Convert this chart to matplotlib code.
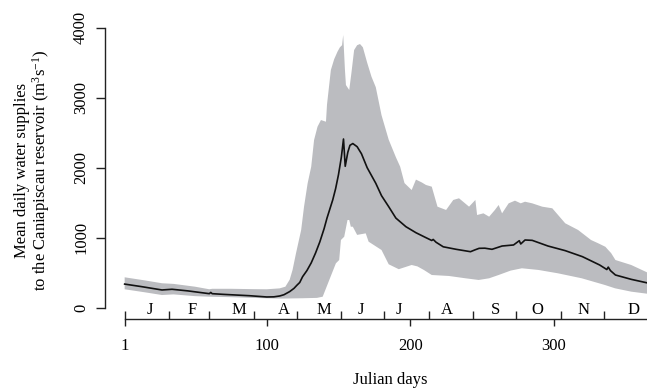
import numpy as np
import matplotlib
matplotlib.use("Agg")
import matplotlib.pyplot as plt

plt.rcParams['font.family'] = ['Liberation Serif', 'DejaVu Serif']
plt.rcParams['mathtext.fontset'] = 'custom'
plt.rcParams['mathtext.rm'] = 'Liberation Serif'
plt.rcParams['mathtext.it'] = 'Liberation Serif:italic'

# ---------------- data ----------------
mean_days = [1, 13, 27, 34, 45, 60, 61, 62, 70, 88, 100, 105, 109, 112, 116, 119, 121, 123,
             125, 128, 131, 134, 137, 140, 142, 146, 148, 150, 152, 153.5, 154.7, 156.5,
             158, 160, 163, 166, 170, 176, 180, 185, 190, 197, 204, 210, 215, 216, 218,
             223, 232, 242, 245, 248, 252, 257, 264, 272, 276, 277, 280, 285, 296, 308,
             320, 332, 337, 338, 339.5, 343, 354, 365]
mean_vals = [337, 300, 253, 263, 240, 200, 218, 200, 190, 171, 153, 155, 167, 185, 230, 276, 320, 360,
             443, 530, 640, 780, 940, 1130, 1280, 1540, 1700, 1900, 2150, 2410, 2020, 2220,
             2320, 2345, 2300, 2200, 2000, 1777, 1600, 1443, 1280, 1157, 1071, 1010, 960, 975, 935,
             870, 834, 800, 825, 848, 850, 834, 881, 896, 957, 910, 967, 962, 881, 815,
             729, 610, 545, 580, 530, 467, 405, 355]

upper_days = [1, 15, 27, 35, 50, 60, 62, 75, 90, 100, 109, 113, 116, 118, 120.4, 124, 126, 128.5,
              131, 133, 135.4, 137.8, 141.3, 142, 144.7, 147, 149.3, 151, 152.5, 153.3, 154.5,
              155.2, 157.5, 159, 160.9, 163, 165, 167, 170, 173, 176, 180, 185, 190, 193, 196,
              201, 204, 208, 211, 215, 219, 225, 230, 234, 241, 245.4, 246.6, 251, 255, 259,
              261.6, 264, 268.6, 273, 277, 280, 285, 292, 299, 308, 317, 326, 331, 336, 338,
              340, 343, 354, 365]
upper_vals = [434, 390, 349, 340, 300, 263, 270, 270, 265, 263, 276, 300, 400, 539, 777, 1110, 1443, 1776,
              2014, 2396, 2586, 2681, 2657, 2900, 3396, 3550, 3657, 3720, 3750, 3896, 3400,
              3181, 3110, 3350, 3681, 3750, 3767, 3720, 3500, 3300, 3150, 2750, 2400, 2150, 2014, 1780,
              1681, 1830, 1790, 1753, 1729, 1443, 1396, 1539, 1563, 1443, 1539, 1324, 1348, 1300, 1396,
              1467, 1348, 1491, 1529, 1491, 1514, 1491, 1443, 1420, 1206, 1110, 967, 920, 870, 824,
              780, 681, 610, 505]

lower_days = [1, 15, 27, 35, 50, 60, 75, 90, 100, 110, 125, 135, 139, 143.6, 148.2, 150.5, 151.7,
              154, 156.3, 157.5, 158.6, 160, 163, 169, 171, 180, 185, 192, 201, 205, 209.5, 215,
              227, 238.5, 247.7, 255, 261.6, 270, 277.8, 289.4, 303, 319.5, 335.7, 342.7, 354, 365]
lower_vals = [263, 220, 181, 190, 165, 157, 150, 140, 134, 130, 135, 140, 157, 396, 634, 681, 967,
              1014, 1253, 1253, 1157, 1157, 1040, 1062, 943, 824, 620, 550, 610, 590, 539, 467,
              453, 420, 396, 420, 467, 530, 563, 539, 491, 420, 324, 277, 229, 200]

month_labels = ['J', 'F', 'M', 'A', 'M', 'J', 'J', 'A', 'S', 'O', 'N', 'D']
month_label_days = [18.8, 47.9, 80.6, 112, 139.9, 165.7, 192.2, 225.7, 259.3, 288.9, 320.6, 355.3]
month_starts = [1, 32, 60, 91, 121, 152, 182, 213, 244, 274, 305, 335]
x_ticks = [1, 100, 200, 300]
y_ticks = [0, 1000, 2000, 3000, 4000]

# ---------------- figure ----------------
W, H = 647, 389
fig = plt.figure(figsize=(W / 100, H / 100), dpi=100)
ax = fig.add_axes([105 / W, (H - 319.3) / H, 542 / W, 319.3 / H])
ax.set_xlim(-12.7, 365)
ax.set_ylim(-166, 4396)

band_x = np.concatenate([upper_days, lower_days[::-1]])
band_y = np.concatenate([upper_vals, lower_vals[::-1]])
ax.fill(band_x, band_y, color='#bbbcc0', lw=0)
ax.plot(mean_days, mean_vals, color='#111111', lw=1.2)

for s in ['top', 'right']:
    ax.spines[s].set_visible(False)
for s in ['left', 'bottom']:
    ax.spines[s].set_linewidth(1.0)
    ax.spines[s].set_color('#222222')
ax.spines['left'].set_bounds(0, 4000)
ax.spines['bottom'].set_bounds(1, 365)

ax.set_yticks(y_ticks)
ax.set_yticklabels([str(v) for v in y_ticks], rotation=90, va='center')
ax.tick_params(axis='y', direction='out', length=6.5, width=1.0, color='#222222',
               labelsize=12, pad=5)

ax.xaxis.remove_overlapping_locs = False
ax.set_xticks(x_ticks)
ax.set_xticklabels([str(v) for v in x_ticks])
ax.set_xticks(month_starts, minor=True)
ax.tick_params(axis='x', which='major', direction='out', length=5.3, width=1.0,
               color='#222222', labelsize=12, pad=8.5)
ax.tick_params(axis='x', which='minor', direction='in', length=5.8, width=1.0,
               color='#222222')

for m, lab in zip(month_label_days, month_labels):
    ax.text(m, -97, lab, ha='center', va='baseline', fontsize=12)

fig.text(22 / W, 1 - 170 / H, 'Mean daily water supplies', rotation=90,
         ha='center', va='center', fontsize=12)
fig.text(41 / W, 1 - 170 / H, r'to the Caniapiscau reservoir (m$^{3}$s$^{-1}$)', rotation=90,
         ha='center', va='center', fontsize=12)
fig.text(390 / W, 1 - 384 / H, 'Julian days', ha='center', va='baseline', fontsize=12)

fig.savefig('out.png', dpi=100)
